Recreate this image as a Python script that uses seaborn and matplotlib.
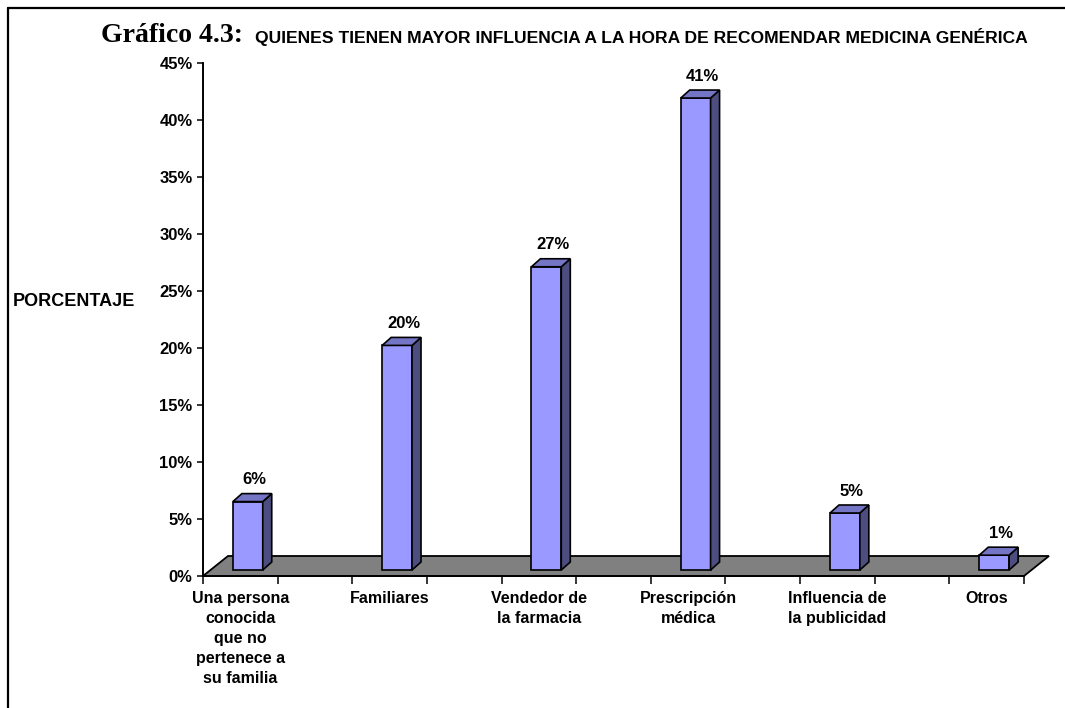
import pandas as pd
import seaborn as sns
import matplotlib.pyplot as plt
import matplotlib.transforms as mtransforms
from matplotlib.patches import Polygon
from matplotlib.lines import Line2D

# Datos
categorias = ["Una persona\nconocida\nque no\npertenece a\nsu familia",
              "Familiares",
              "Vendedor de\nla farmacia",
              "Prescripción\nmédica",
              "Influencia de\nla publicidad",
              "Otros"]
valores = [6.0, 19.7, 26.6, 41.4, 5.0, 1.3]
etiquetas = ["6%", "20%", "27%", "41%", "5%", "1%"]
marcas_y = [0, 5, 10, 15, 20, 25, 30, 35, 40, 45]

titulo_a = "Gráfico 4.3:"
titulo_b = "QUIENES TIENEN MAYOR INFLUENCIA A LA HORA DE RECOMENDAR MEDICINA GENÉRICA"

sns.set_style("white")
plt.rcParams["font.family"] = ["Liberation Sans", "DejaVu Sans"]
plt.rcParams["text.color"] = "black"
plt.rcParams["xtick.color"] = "black"
plt.rcParams["ytick.color"] = "black"
plt.rcParams["axes.labelcolor"] = "black"

W, H = 1065, 708
fig = plt.figure(figsize=(W / 100, H / 100), dpi=100)
ax = fig.add_axes([203 / W, (H - 576) / H, (1024 - 203) / W, (576 - 63) / H])

datos = pd.DataFrame({"categoria": categorias, "valor": valores})
sns.barplot(data=datos, x="categoria", y="valor", color="#9999ff", saturation=1,
            width=0.2, edgecolor="black", linewidth=1.2, ax=ax, zorder=2)

ax.set_xlim(-0.25, 5.25)
ax.set_ylim(0, 45)

# profundidad 3D en pixeles
piso = (25, 20)
frente = (7.5, 6)
fondo = (16.5, 14)

def px(x, y, d):
    a, b = ax.transData.transform((x, y))
    return (a + d[0], b + d[1])

ident = mtransforms.IdentityTransform()

# piso gris
x0, x1 = ax.get_xlim()
ax.add_patch(Polygon([px(x0, 0, (0, 0)), px(x1, 0, (0, 0)), px(x1, 0, piso), px(x0, 0, piso)],
                     closed=True, facecolor="#808080", edgecolor="black", linewidth=1.3,
                     transform=ident, clip_on=False, zorder=1))

desplazar = mtransforms.ScaledTranslation(frente[0] / 100, frente[1] / 100, fig.dpi_scale_trans)
for p in ax.patches[:len(valores)]:
    p.set_transform(ax.transData + desplazar)
    p.set_clip_on(False)
    xl = p.get_x()
    xr = xl + p.get_width()
    h = p.get_height()
    lado = [px(xr, 0, frente), px(xr, h, frente), px(xr, h, fondo), px(xr, 0, fondo)]
    tapa = [px(xl, h, frente), px(xr, h, frente), px(xr, h, fondo), px(xl, h, fondo)]
    ax.add_patch(Polygon(lado, closed=True, facecolor="#4d4d80", edgecolor="black",
                         linewidth=1.2, transform=ident, clip_on=False, zorder=2))
    ax.add_patch(Polygon(tapa, closed=True, facecolor="#7575c6", edgecolor="black",
                         linewidth=1.2, transform=ident, clip_on=False, zorder=2))

for i, (v, t) in enumerate(zip(valores, etiquetas)):
    ax.annotate(t, xy=(i, v), xytext=(14 * 0.72, 28 * 0.72), textcoords="offset points",
                ha="center", va="center", fontsize=12, fontweight="bold")

# ejes
ax.set_xlabel("")
ax.set_ylabel("")
ax.set_yticks(marcas_y)
ax.set_yticklabels([f"{m}%" for m in marcas_y], fontsize=12, fontweight="bold")
ax.set_xticks(range(len(categorias)))
ax.set_xticklabels(categorias, fontsize=11.5, fontweight="bold", linespacing=1.42)
ax.set_xticks([i + s for i in range(len(categorias)) for s in (-0.25, 0.25)], minor=True)
ax.tick_params(axis="x", which="major", length=0, pad=11, bottom=True)
ax.tick_params(axis="x", which="minor", length=5.5, width=1.1, color="black",
               direction="out", bottom=True)
ax.tick_params(axis="y", length=4.5, width=1.1, color="black", direction="out",
               left=True, pad=3)
for s in ["top", "right"]:
    ax.spines[s].set_visible(False)
for s in ["left", "bottom"]:
    ax.spines[s].set_color("black")
    ax.spines[s].set_linewidth(1.4)

fig.text(13 / W, 1 - 302 / H, "PORCENTAJE", ha="left", va="center",
         fontsize=13, fontweight="bold")
fig.text(101 / W, 1 - 36 / H, titulo_a, ha="left", va="center", fontsize=20,
         fontweight="bold", family=["Liberation Serif", "DejaVu Serif"])
fig.text(255 / W, 1 - 37 / H, titulo_b, ha="left", va="center", fontsize=12.6,
         fontweight="bold")

# marco
fig.add_artist(Line2D([8 / W, 8 / W], [0, 1 - 8 / H], color="black", linewidth=1.6,
                      transform=fig.transFigure))
fig.add_artist(Line2D([8 / W, 1], [1 - 8 / H, 1 - 8 / H], color="black", linewidth=1.6,
                      transform=fig.transFigure))

fig.savefig("out.png", dpi=100)
